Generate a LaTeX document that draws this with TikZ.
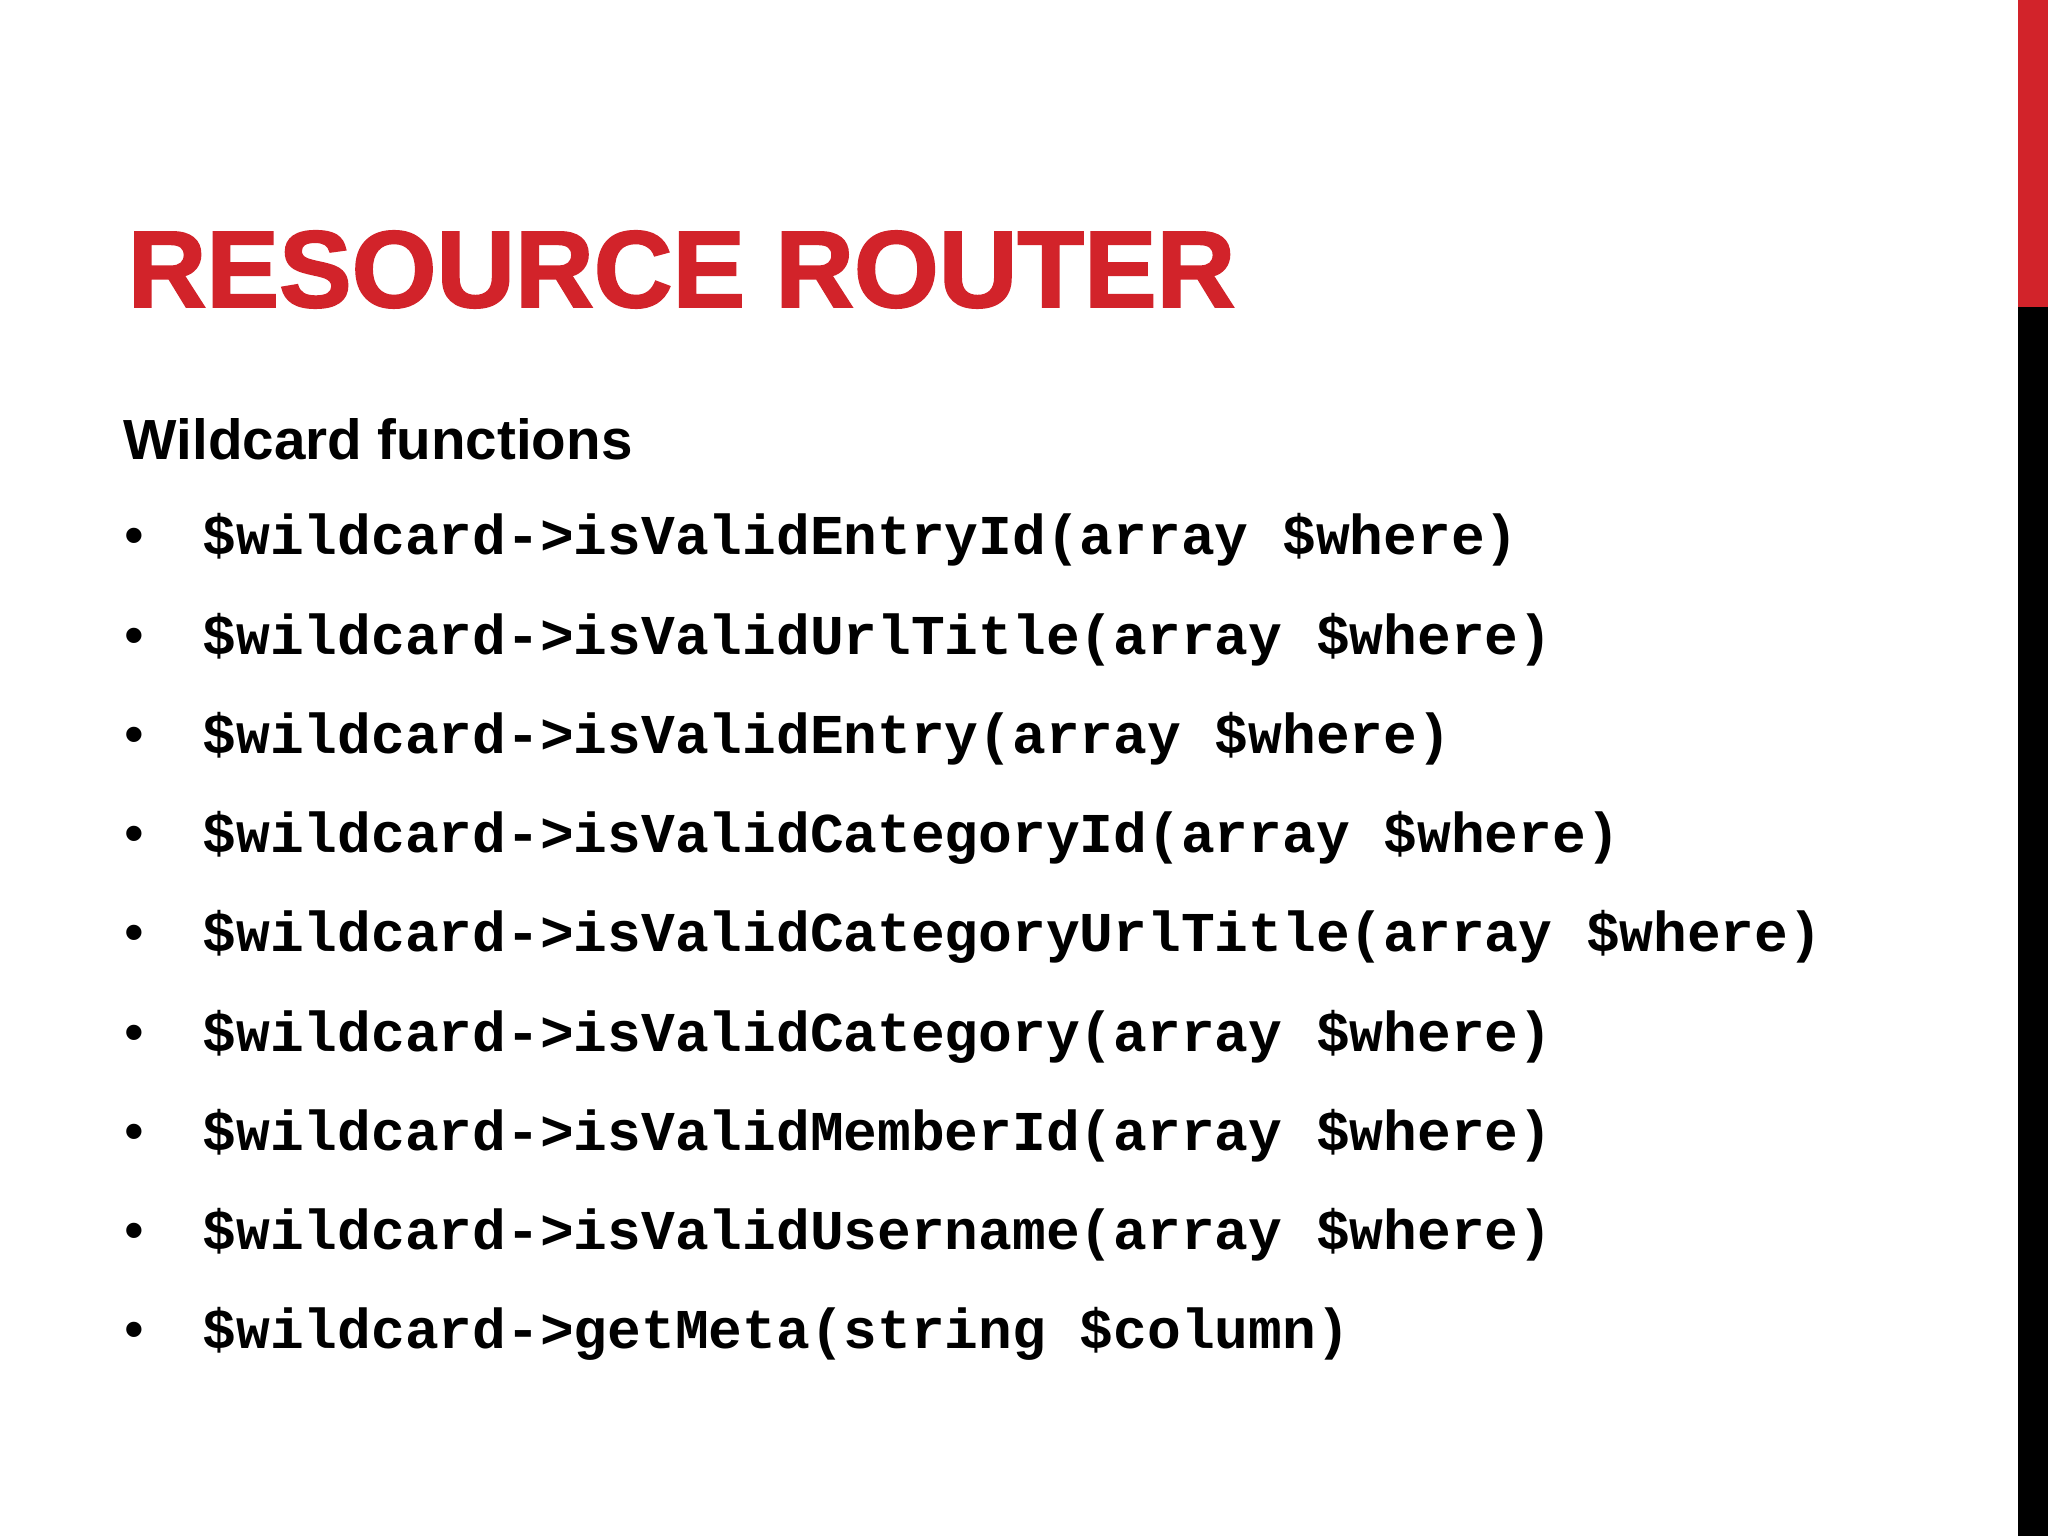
\documentclass[tikz,border=0pt]{standalone}
\usepackage{fontspec}
\setmainfont{Liberation Sans}
\newfontfamily\codefont{Liberation Mono}
\newfontfamily\titlefont[FakeBold=1.8]{Liberation Sans Bold}
\definecolor{rred}{HTML}{D2232A}
\begin{document}
\begin{tikzpicture}[x=1cm,y=1cm,
  code/.style={anchor=base west,inner sep=0pt,font=\codefont\bfseries\fontsize{16}{18}\selectfont},
  bul/.style={anchor=base west,inner sep=0pt,font=\fontsize{16}{18}\selectfont}]
\useasboundingbox[fill=white] (0,0) rectangle (20.48,-15.36);
\fill[rred] (20.18,0) rectangle (20.48,-3.07);
\fill[black] (20.18,-3.07) rectangle (20.48,-15.36);
\node[anchor=base west,inner sep=0pt,text=rred,font=\titlefont\fontsize{31}{36}\selectfont] (title) at (1.27,-3.07) {RESOURCE ROUTER};
\node[anchor=base west,inner sep=0pt,font=\bfseries\fontsize{16.1}{19}\selectfont] (sub) at (1.23,-4.60) {Wildcard functions};
\foreach \t [count=\i] in {isValidEntryId(array \$where),isValidUrlTitle(array \$where),isValidEntry(array \$where),isValidCategoryId(array \$where),isValidCategoryUrlTitle(array \$where),isValidCategory(array \$where),isValidMemberId(array \$where),isValidUsername(array \$where),getMeta(string \$column)}{
  \pgfmathsetmacro{\yy}{-5.55-0.9925*(\i-1)}
  \node[bul] (b\i) at (1.24,\yy) {•};
  \node[code] (c\i) at (2.02,\yy) {\$wildcard->\t};
}
\end{tikzpicture}
\end{document}
